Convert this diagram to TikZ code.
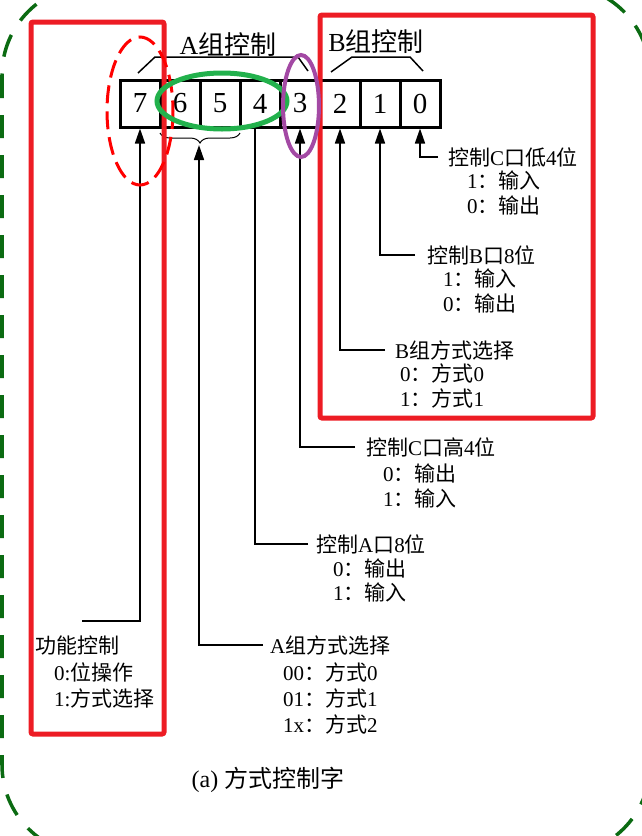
\documentclass[tikz,border=0pt]{standalone}
\usepackage{fontspec}
\setmainfont{Liberation Serif}
\newfontfamily\cjk{Noto Sans CJK SC}
\usetikzlibrary{arrows.meta,decorations.pathreplacing}
\newcommand{\zh}[1]{{\cjk #1}}
\definecolor{redbox}{HTML}{ED1C24}
\definecolor{greenell}{HTML}{22B14C}
\definecolor{purpleell}{HTML}{A349A4}
\definecolor{darkgr}{HTML}{0B6B12}
\tikzset{
  cell/.style={draw, line width=3pt, minimum width=40pt, minimum height=47pt, inner sep=0pt, font=\fontsize{29}{29}\selectfont},
  lbl/.style={anchor=west, inner sep=0pt, font=\fontsize{21}{24}\selectfont},
  grp/.style={inner sep=0pt, font=\fontsize{26}{28}\selectfont},
  conn/.style={line width=1.6pt},
  arr/.style={line width=1.6pt, -{Triangle[length=15pt,width=10pt]}},
  bracket/.style={line width=1.5pt},
  redframe/.style={draw=redbox, line width=5pt, rounded corners=2pt},
}
\begin{document}
\begin{tikzpicture}[x=1pt,y=-1pt]
\useasboundingbox (0,0) rectangle (642,836);
% outer green dashed frame
\begin{scope}
\clip (0,0) rectangle (642,836);
\draw[darkgr, line width=3.5pt, dash pattern=on 23pt off 17pt, rounded corners=90pt] (2,-15) rectangle (650,855);
\end{scope}
% bit cells
\node[cell] (b7) at (140,103.5) {7};
\node[cell] (b6) at (180,103.5) {6};
\node[cell] (b5) at (220,103.5) {5};
\node[cell] (b4) at (260,103.5) {4};
\node[cell] (b3) at (300,103.5) {3};
\node[cell] (b2) at (340,103.5) {2};
\node[cell] (b1) at (380,103.5) {1};
\node[cell] (b0) at (420,103.5) {0};
% group labels
\node[grp] (gA) at (228,45) {A\zh{组控制}};
\node[grp] (gB) at (376,42) {B\zh{组控制}};
\draw[bracket] (138,73) -- (155,57) -- (298,57) -- (308,71);
\draw[bracket] (331,72) -- (352,57) -- (410,57) -- (423,71);
% brace under 6..4
\coordinate (brL) at (160,133);
\coordinate (brR) at (240,133);
\coordinate (brT) at (199,145);
\draw[line width=1pt, decorate, decoration={brace, amplitude=10pt, mirror}] (brL) -- (brR);
% labels
\node[lbl] (tC4) at (448,157) {\zh{控制}C\zh{口低}4\zh{位}};
\node[lbl] (tC4a) at (467,180) {1\zh{：输入}};
\node[lbl] (tC4b) at (467,205) {0\zh{：输出}};
\node[lbl] (tB8) at (427,255) {\zh{控制}B\zh{口}8\zh{位}};
\node[lbl] (tB8a) at (443,278) {1\zh{：输入}};
\node[lbl] (tB8b) at (443,303) {0\zh{：输出}};
\node[lbl] (tBm) at (395,350) {B\zh{组方式选择}};
\node[lbl] (tBma) at (400,373) {0\zh{：方式}0};
\node[lbl] (tBmb) at (400,398) {1\zh{：方式}1};
\node[lbl] (tCh) at (366,447) {\zh{控制}C\zh{口高}4\zh{位}};
\node[lbl] (tCha) at (383,473) {0\zh{：输出}};
\node[lbl] (tChb) at (383,498) {1\zh{：输入}};
\node[lbl] (tA8) at (316,544) {\zh{控制}A\zh{口}8\zh{位}};
\node[lbl] (tA8a) at (333,568) {0\zh{：输出}};
\node[lbl] (tA8b) at (333,592) {1\zh{：输入}};
\node[lbl] (tAm) at (270,645) {A\zh{组方式选择}};
\node[lbl] (tAma) at (283,672) {00\zh{：方式}0};
\node[lbl] (tAmb) at (283,698) {01\zh{：方式}1};
\node[lbl] (tAmc) at (283,724) {1x\zh{：方式}2};
\node[lbl] (tF) at (35,646) {\zh{功能控制}};
\node[lbl] (tFa) at (54,672) {0:\zh{位操作}};
\node[lbl] (tFb) at (54,698) {1:\zh{方式选择}};
\node[inner sep=0pt, font=\fontsize{24}{26}\selectfont] (cap) at (268,780) {(a) \zh{方式控制字}};
% connectors
\draw[arr] ([xshift=-10pt]tC4.west) -| (b0.south);
\draw[arr] ([xshift=-12pt]tB8.west) -| (b1.south);
\draw[arr] ([xshift=-10pt]tBm.west) -| (b2.south);
\draw[arr] ([xshift=-11pt]tCh.west) -| (b3.south);
\draw[conn] ([xshift=-8pt]tA8.west) -| ([xshift=-5pt]b4.south);
\draw[arr] ([xshift=-7pt]tAm.west) -| (brT);
\coordinate (f7) at (82,621);
\draw[arr] (f7) -| (b7.south);
% highlight marks
\draw[redframe] (31,22) rectangle (164,734);
\draw[redframe] (320,15) rectangle (593,418);
\draw[red, line width=3pt, dash pattern=on 18pt off 8pt] (140,111) ellipse [x radius=33, y radius=74];
\draw[greenell, line width=5pt] (222,101) ellipse [x radius=65, y radius=28];
\draw[purpleell, line width=4pt] (301,106) ellipse [x radius=18, y radius=51];
\end{tikzpicture}
\end{document}
